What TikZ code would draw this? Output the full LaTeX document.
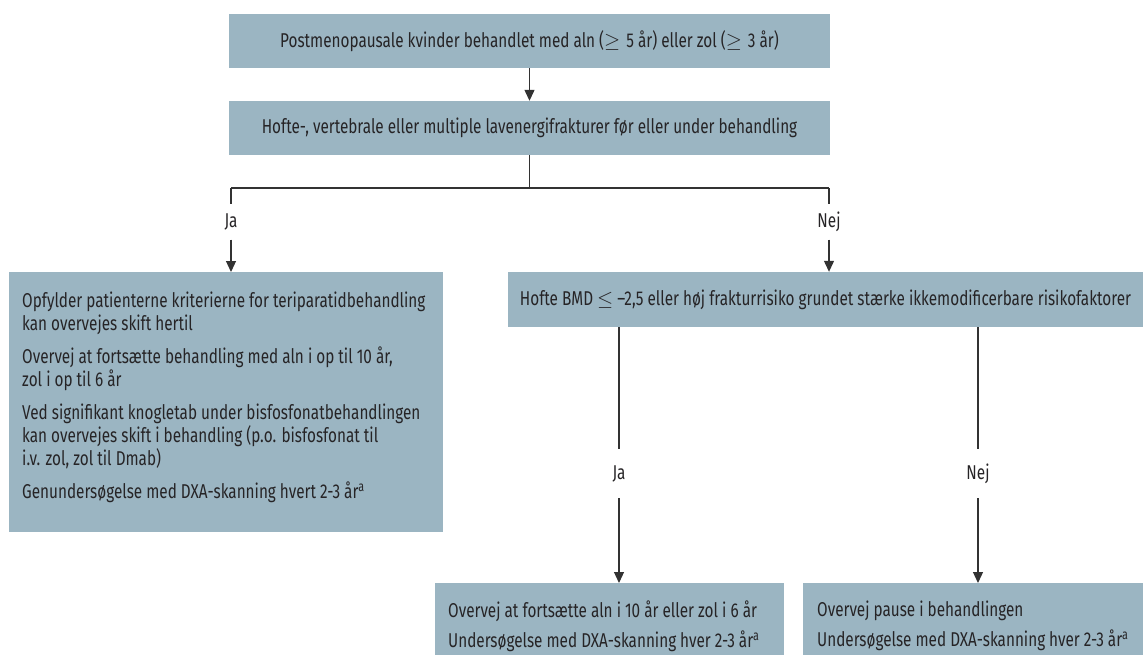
\documentclass[tikz,border=0pt]{standalone}
\usepackage{fontspec}
\setmainfont[FakeStretch=0.765]{Fira Sans}
\usetikzlibrary{arrows.meta}
\definecolor{boxc}{RGB}{155,181,194}
\definecolor{txt}{RGB}{38,36,38}
\definecolor{ln}{RGB}{50,50,50}
\newcommand\fs{\fontsize{20}{23}\selectfont}
\newcommand\gesym{$\geq$\hspace{6pt}}
\begin{document}
\begin{tikzpicture}[x=1pt,y=-1pt,
  box/.style={fill=boxc, text=txt, inner sep=0pt, font=\fs},
  conn/.style={draw=ln, line width=1.2pt},
  arr/.style={conn, -{Triangle[length=11pt,width=10pt]}},
  lab/.style={text=txt, font=\fs, inner sep=0pt}]
\useasboundingbox (0,0) rectangle (1143,654);

\node[box, minimum width=601pt, minimum height=54pt] (n1) at (529.5,41)
  {Postmenopausale kvinder behandlet med aln (\gesym5 år) eller zol (\gesym3 år)};
\node[box, minimum width=601pt, minimum height=54pt] (n2) at (529.5,128)
  {Hofte-, vertebrale eller multiple lavenergifrakturer før eller under behandling};

\node[box, anchor=north west, inner xsep=13pt, inner ysep=20pt] (n3) at (9,272)
  {\begin{minipage}[t][220pt][t]{408pt}\fs\setlength{\parskip}{10pt}\raggedright
   Opfylder patienterne kriterierne for teriparatidbehandling\\
   kan overvejes skift hertil\par
   Overvej at fortsætte behandling med aln i op til 10 år,\\
   zol i op til 6 år\par
   Ved signifikant knogletab under bisfosfonatbehandlingen\\
   kan overvejes skift i behandling (p.o. bisfosfonat til\\
   i.v. zol, zol til Dmab)\par
   Genundersøgelse med DXA-skanning hvert 2-3 år\textsuperscript{a}
   \end{minipage}};

\node[box, minimum width=635pt, minimum height=55pt] (n4) at (825.5,299.5)
  {Hofte BMD $\leq$ –2,5 eller høj frakturrisiko grundet stærke ikkemodificerbare risikofaktorer};

\node[box, anchor=north west, inner xsep=13pt, inner ysep=18pt] (n5) at (435,583)
  {\begin{minipage}[t][40pt][t]{323pt}\fs\setlength{\parskip}{7pt}\raggedright
   Overvej at fortsætte aln i 10 år eller zol i 6 år\par
   Undersøgelse med DXA-skanning hver 2-3 år\textsuperscript{a}
   \end{minipage}};
\node[box, anchor=north west, inner xsep=14pt, inner ysep=18pt] (n6) at (803,583)
  {\begin{minipage}[t][40pt][t]{330pt}\fs\setlength{\parskip}{7pt}\raggedright
   Overvej pause i behandlingen\par
   Undersøgelse med DXA-skanning hver 2-3 år\textsuperscript{a}
   \end{minipage}};

\coordinate (bc) at (529.5,188);
\coordinate (bl) at (231,188);
\coordinate (br) at (829,188);
\node[lab, minimum height=35pt] (ja1) at (231,222) {Ja};
\node[lab, minimum height=35pt] (nej1) at (829,222) {Nej};
\node[lab, minimum height=49pt] (ja2) at (619,473.5) {Ja};
\node[lab, minimum height=49pt] (nej2) at (978,473.5) {Nej};

\draw[arr] (n1.south) -- (n2.north);
\draw[conn] (n2.south) -- (bc);
\draw[conn] (bl) -- (br);
\draw[conn] (bl) -- (ja1.north);
\draw[conn] (br) -- (nej1.north);
\draw[arr] (ja1.south) -- (ja1.south |- n3.north);
\draw[arr] (nej1.south) -- (nej1.south |- n4.north);
\draw[conn] (ja2.north |- n4.south) -- (ja2.north);
\draw[conn] (nej2.north |- n4.south) -- (nej2.north);
\draw[arr] (ja2.south) -- (ja2.south |- n5.north);
\draw[arr] (nej2.south) -- (nej2.south |- n6.north);
\end{tikzpicture}
\end{document}
